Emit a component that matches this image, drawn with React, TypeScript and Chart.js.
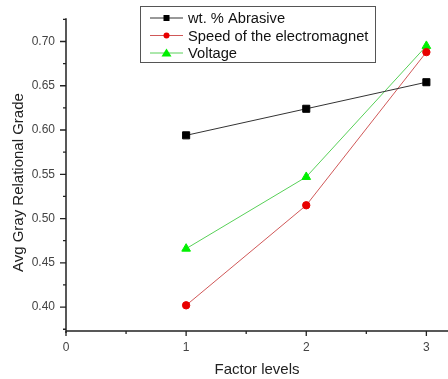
import React, { useEffect, useRef } from "react";
import { Chart, registerables } from "chart.js";

Chart.register(...registerables);

const levels = [1, 2, 3];
const abrasive = [0.594, 0.624, 0.654];
const speed = [0.402, 0.515, 0.688];
const voltage = [0.466, 0.547, 0.695];
const seriesLabels = ["wt. % Abrasive", "Speed of the electromagnet", "Voltage"];
const xTicks = [0, 1, 2, 3];
const xMinor = [0.5, 1.5, 2.5];
const yTicks = [0.4, 0.45, 0.5, 0.55, 0.6, 0.65, 0.7];
const yMinor = [0.375, 0.425, 0.475, 0.525, 0.575, 0.625, 0.675, 0.725];
const yTitle = "Avg Gray Relational Grade";
const xTitle = "Factor levels";

const FONT = "'Liberation Sans', Arial, sans-serif";

export default function App() {
  const ref = useRef<HTMLCanvasElement>(null);
  useEffect(() => {
    document.body.style.margin = "0";
    const ctx = ref.current!.getContext("2d")!;
    const mk = (vals: number[]) => levels.map((x, i) => ({ x, y: vals[i] }));

    const axesPlugin = {
      id: "axesDraw",
      afterDraw(chart: any) {
        const c = chart.ctx;
        const xs = chart.scales.x;
        const ys = chart.scales.y;
        const { left, right, top, bottom } = chart.chartArea;
        c.save();
        c.strokeStyle = "#222";
        c.lineWidth = 1.5;
        c.beginPath();
        c.moveTo(left, top);
        c.lineTo(left, bottom + 2);
        c.moveTo(left, bottom);
        c.lineTo(right, bottom);
        c.stroke();
        c.lineWidth = 1.3;
        c.beginPath();
        xTicks.forEach((v) => {
          const p = xs.getPixelForValue(v);
          c.moveTo(p, bottom);
          c.lineTo(p, bottom + 5);
        });
        xMinor.forEach((v) => {
          const p = xs.getPixelForValue(v);
          c.moveTo(p, bottom);
          c.lineTo(p, bottom + 3);
        });
        yTicks.forEach((v) => {
          const p = ys.getPixelForValue(v);
          c.moveTo(left, p);
          c.lineTo(left - 6, p);
        });
        yMinor.forEach((v) => {
          const p = ys.getPixelForValue(v);
          c.moveTo(left, p);
          c.lineTo(left - 3, p);
        });
        c.stroke();

        // y title
        c.save();
        c.translate(19, (top + bottom) / 2 + 8);
        c.rotate(-Math.PI / 2);
        c.font = `15px ${FONT}`;
        c.fillStyle = "#222";
        c.textAlign = "center";
        c.textBaseline = "middle";
        c.fillText(yTitle, 0, 0);
        c.restore();

        // legend
        const bx = 140, by = 6, bw = 235, bh = 56;
        c.fillStyle = "#fff";
        c.fillRect(bx, by, bw, bh);
        c.strokeStyle = "#555";
        c.lineWidth = 1;
        c.strokeRect(bx + 0.5, by + 0.5, bw, bh);
        c.font = `14.7px ${FONT}`;
        c.textBaseline = "middle";
        chart.data.datasets.forEach((ds: any, i: number) => {
          const ly = by + 12 + i * 17.5;
          c.strokeStyle = ds.borderColor;
          c.lineWidth = 1;
          c.beginPath();
          c.moveTo(bx + 10, ly);
          c.lineTo(bx + 43, ly);
          c.stroke();
          c.fillStyle = ds.pointBackgroundColor;
          const cx = bx + 26.5;
          if (ds.pointStyle === "rect") {
            c.fillRect(cx - 3, ly - 3, 6, 6);
          } else if (ds.pointStyle === "circle") {
            c.beginPath();
            c.arc(cx, ly, 3, 0, Math.PI * 2);
            c.fill();
          } else {
            c.beginPath();
            c.moveTo(cx, ly - 4.5);
            c.lineTo(cx + 5, ly + 3.5);
            c.lineTo(cx - 5, ly + 3.5);
            c.closePath();
            c.fill();
          }
          c.fillStyle = "#111";
          c.fillText(ds.label, bx + 48, ly + 1);
        });
        c.restore();
      },
    };

    const chart = new Chart(ctx, {
      type: "line",
      data: {
        datasets: [
          {
            label: seriesLabels[0],
            data: mk(abrasive),
            borderColor: "#333",
            backgroundColor: "#000",
            pointBackgroundColor: "#000",
            pointBorderColor: "#000",
            pointStyle: "rect",
            pointRadius: 5,
            borderWidth: 1,
          },
          {
            label: seriesLabels[1],
            data: mk(speed),
            borderColor: "#d05858",
            backgroundColor: "#e80000",
            pointBackgroundColor: "#e80000",
            pointBorderColor: "#e80000",
            pointStyle: "circle",
            pointRadius: 3.7,
            borderWidth: 1,
          },
          {
            label: seriesLabels[2],
            data: mk(voltage),
            borderColor: "#58d058",
            backgroundColor: "#00f000",
            pointBackgroundColor: "#00f000",
            pointBorderColor: "#00f000",
            pointStyle: "triangle",
            pointRadius: 5,
            borderWidth: 1,
          },
        ],
      },
      options: {
        animation: false,
        responsive: false,
        layout: { autoPadding: false, padding: { left: 0, right: 0, top: 13, bottom: 0 } },
        plugins: { legend: { display: false }, tooltip: { enabled: false } },
        scales: {
          x: {
            type: "linear",
            min: 0,
            max: 3.18,
            afterBuildTicks: (s: any) => {
              s.ticks = xTicks.map((v) => ({ value: v }));
            },
            afterFit: (s: any) => {
              s.height = 48;
            },
            grid: { display: false, drawTicks: false },
            border: { display: false },
            ticks: {
              padding: 9,
              color: "#444",
              font: { family: FONT, size: 12 },
              maxRotation: 0,
            },
            title: {
              display: true,
              text: xTitle,
              color: "#222",
              font: { family: FONT, size: 15 },
              padding: { top: 4, bottom: 0 },
            },
          },
          y: {
            type: "linear",
            min: 0.373,
            max: 0.7263,
            afterBuildTicks: (s: any) => {
              s.ticks = yTicks.map((v) => ({ value: v }));
            },
            afterFit: (s: any) => {
              s.width = 66;
            },
            grid: { display: false, drawTicks: false },
            border: { display: false },
            ticks: {
              padding: 11,
              color: "#444",
              font: { family: FONT, size: 12 },
              callback: (v: any) => Number(v).toFixed(2),
            },
            title: { display: false },
          },
        },
      },
      plugins: [axesPlugin],
    } as any);
    return () => chart.destroy();
  }, []);
  return (
    <div style={{ position: "absolute", left: 0, top: 0, width: 448, height: 379, background: "#fff" }}>
      <canvas ref={ref} width={448} height={379} />
    </div>
  );
}
